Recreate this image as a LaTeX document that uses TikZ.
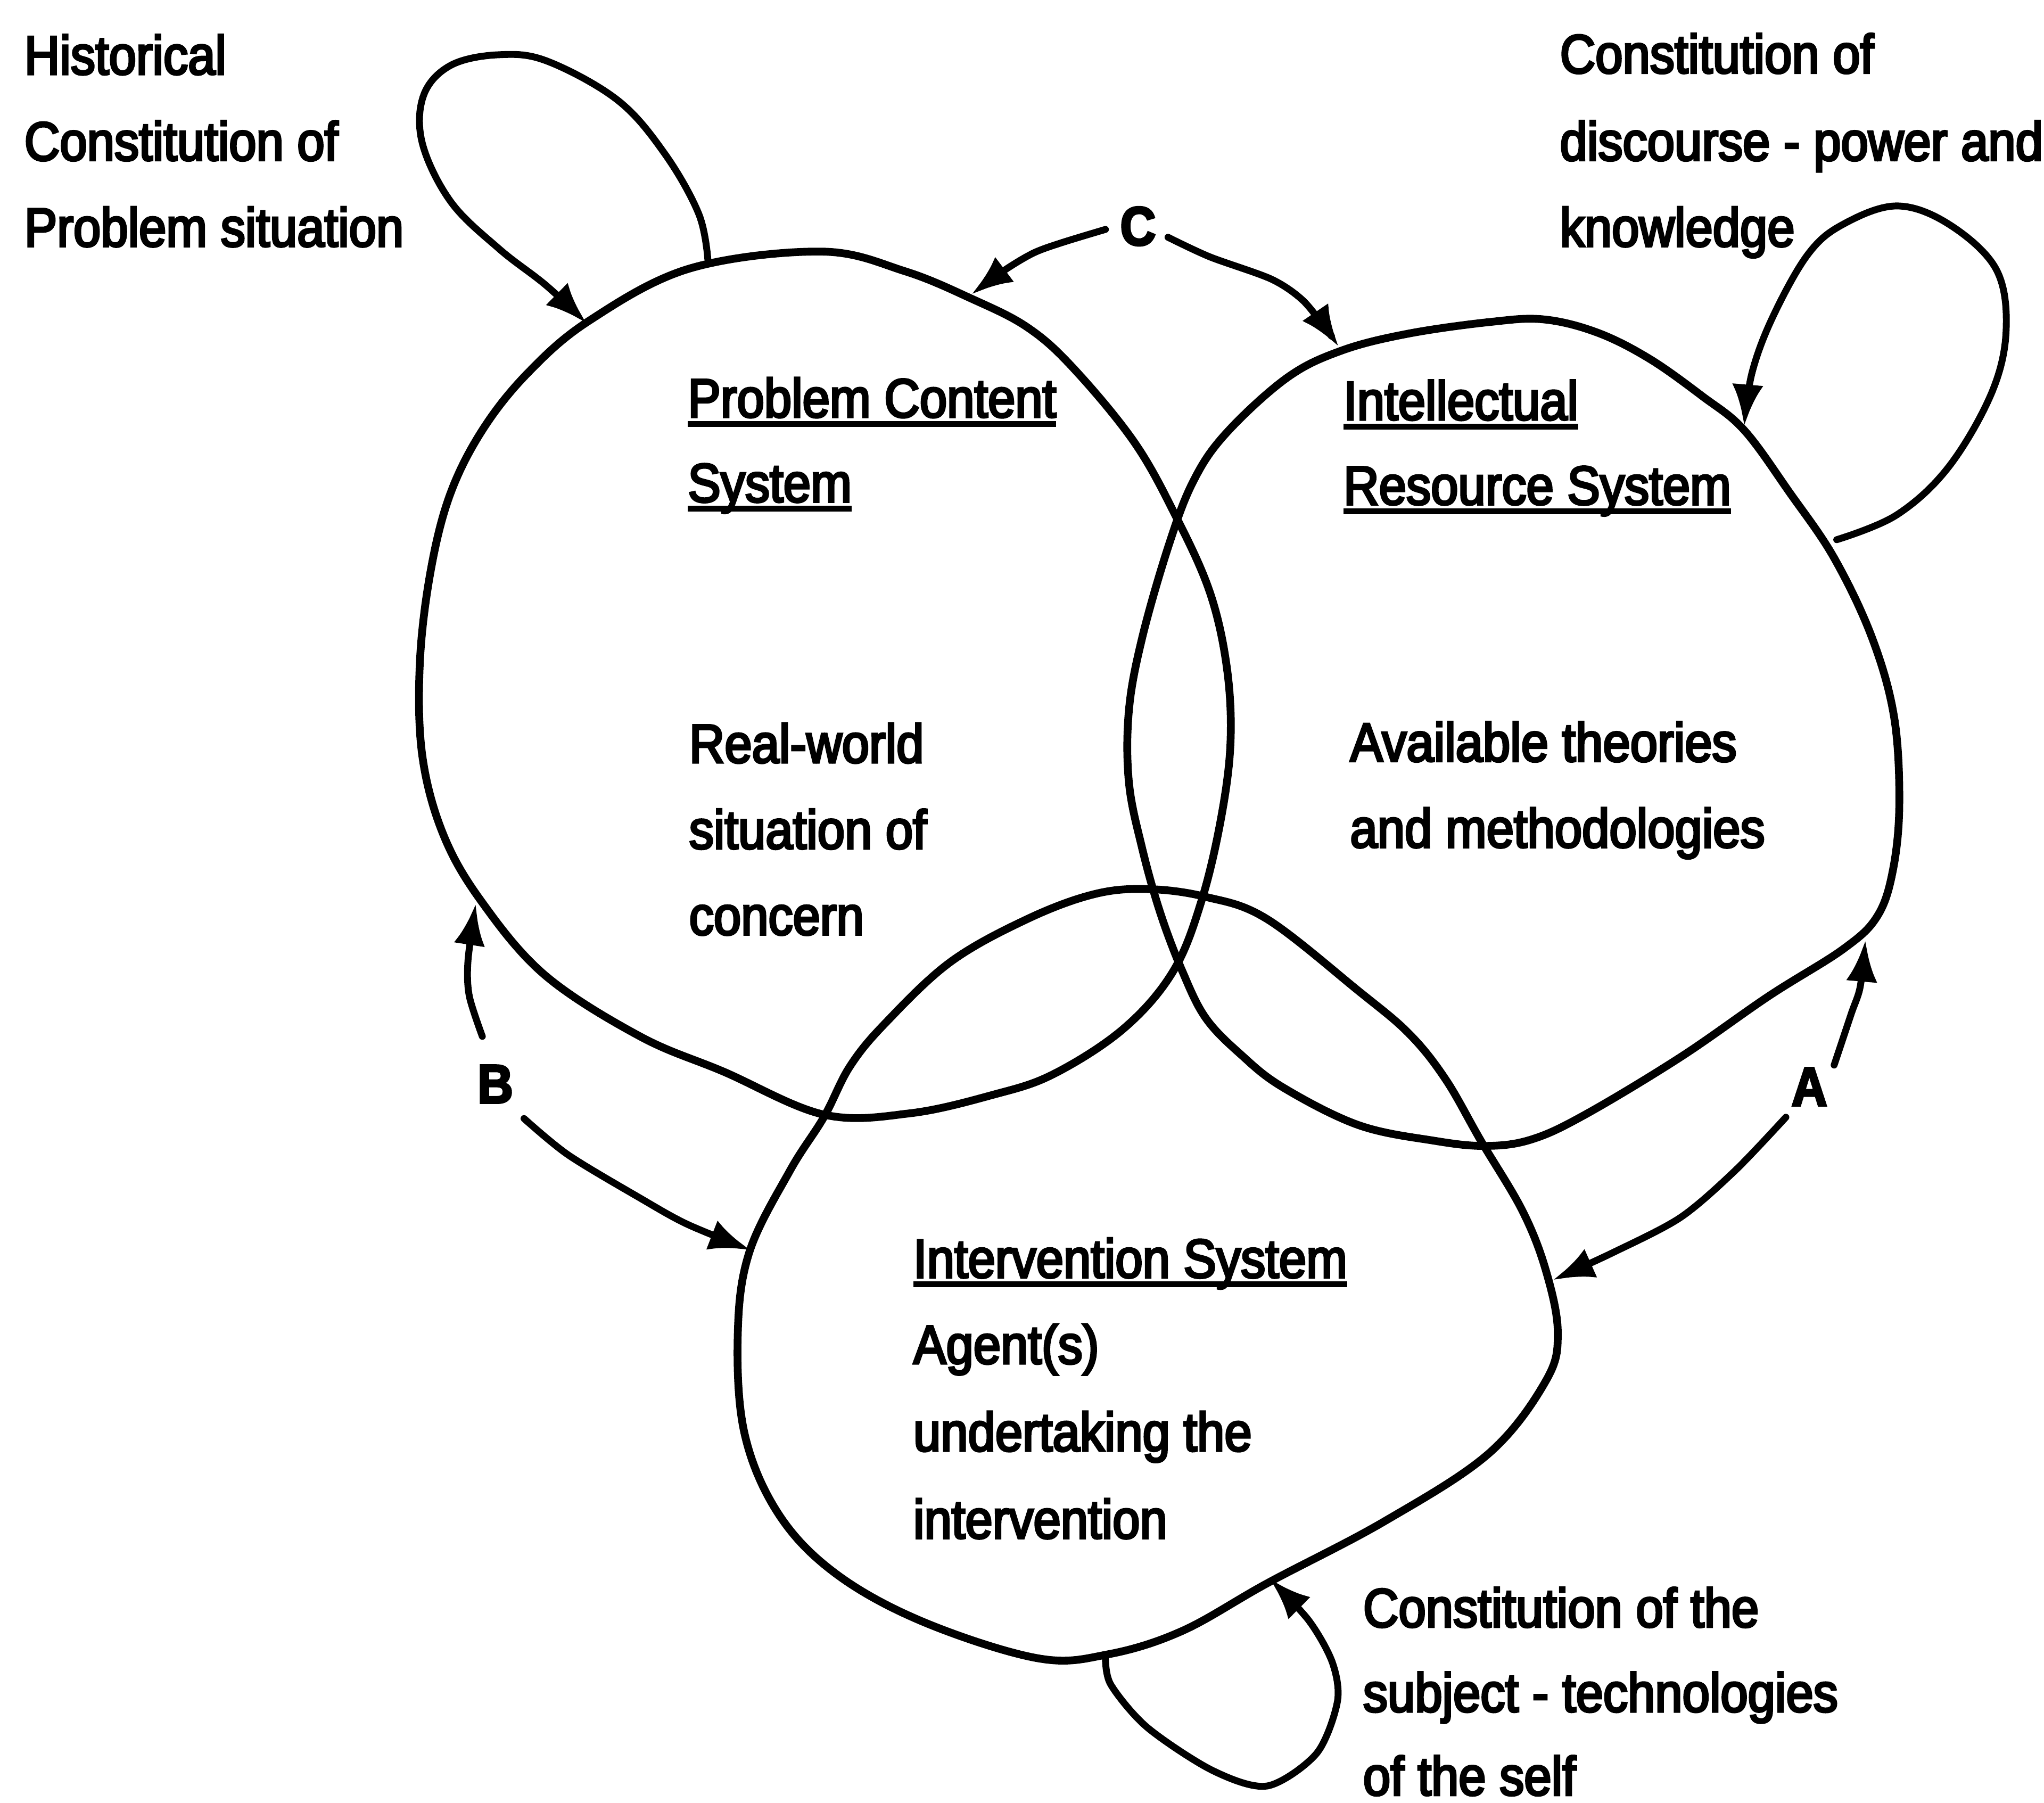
\documentclass[tikz,border=0pt]{standalone}
\usepackage{fontspec}
\setmainfont{Liberation Sans}[FakeStretch=0.9, FakeBold=4]
\usetikzlibrary{arrows.meta}
\newsavebox\ulbox
% underline at a fixed distance below the baseline
\newcommand{\sysul}[1]{\sbox\ulbox{#1}\rlap{\rule[-0.075cm]{\wd\ulbox}{0.045cm}}\usebox\ulbox}
\begin{document}
\begin{tikzpicture}[x=0.01cm,y=-0.01cm,
  txt/.style={anchor=base west, inner sep=0pt, font=\fontsize{11.9}{18.8}\selectfont},
  lbl/.style={anchor=base, inner sep=0pt, font=\fontsize{11.9}{18.8}\selectfont\bfseries},
  sysline/.style={line width=1.7pt, line join=round},
  arr/.style={line width=1.5pt, line cap=round, line join=round, -{Latex[length=3.2mm,width=2.4mm]}}]

\path[use as bounding box] (0,0) rectangle (1568,1383);

% ---- the three systems ----
\draw[sysline] plot[smooth cycle, tension=0.6] coordinates {
  (452,246) (529,206) (630,193) (694,208) (745,229) (788,251) (823,282) (870,339)
  (902,396) (928,454) (941,511) (944,568) (937,626) (922,690) (900,745) (862,789)
  (808,824) (761,840) (698,854) (632,855) (555,822) (491,795) (418,748) (369,691)
  (340,640) (324,580) (322,510) (330,440) (345,380) (370,330) (405,286)};

\draw[sysline] plot[smooth cycle, tension=0.6] coordinates {
  (915,370) (940,333) (987,290) (1029,269) (1080,256) (1143,247) (1184,245) (1225,255)
  (1265,275) (1306,304) (1338,330) (1373,378) (1407,428) (1436,489) (1453,550) (1457,617)
  (1452,668) (1440,703) (1414,728) (1357,764) (1289,811) (1216,855) (1175,874) (1140,879)
  (1100,875) (1042,863) (984,834) (952,809) (925,781) (907,745) (890,700) (876,650)
  (866,600) (866,545) (876,490) (896,420)};

\draw[sysline] plot[smooth cycle, tension=0.6] coordinates {
  (880,682) (925,688) (972,705) (1042,760) (1081,793) (1109,828) (1136,875) (1168,929)
  (1186,975) (1195,1022) (1186,1059) (1142,1115) (1062,1167) (973,1214) (907,1251)
  (850,1269) (796,1272) (708,1244) (641,1207) (597,1161) (571,1099) (566,1022) (575,960)
  (606,898) (632,857) (652,818) (679,785) (729,738) (788,705) (839,686)};

% ---- texts ----
\node[txt] (hist1) at (18,57)  {Historical};
\node[txt] (hist2) at (18,123) {Constitution of};
\node[txt] (hist3) at (18,189) {Problem situation};

\node[txt] (disc1) at (1196,56)  {Constitution of};
\node[txt] (disc2) at (1196,123) {discourse - power and};
\node[txt] (disc3) at (1196,189) {knowledge};

\node[txt] (pcs1) at (527,320) {\sysul{Problem Content}};
\node[txt] (pcs2) at (527,385) {\sysul{System}};
\node[txt] (pcs3) at (528,585) {Real-world};
\node[txt] (pcs4) at (528,651) {situation of};
\node[txt] (pcs5) at (528,717) {concern};

\node[txt] (irs1) at (1030,322) {\sysul{Intellectual}};
\node[txt] (irs2) at (1030,387) {\sysul{Resource System}};
\node[txt] (irs3) at (1035,584) {Available theories};
\node[txt] (irs4) at (1035,650) {and methodologies};

\node[txt] (is1) at (700,980)  {\sysul{Intervention System}};
\node[txt] (is2) at (700,1046) {Agent(s)};
\node[txt] (is3) at (700,1113) {undertaking the};
\node[txt] (is4) at (700,1180) {intervention};

\node[txt] (self1) at (1045,1248) {Constitution of the};
\node[txt] (self2) at (1045,1313) {subject - technologies};
\node[txt] (self3) at (1045,1377) {of the self};

\node[lbl] (C) at (873,188) {C};
\node[lbl] (B) at (380,846) {B};
\node[lbl] (A) at (1388,848) {A};

% ---- connector ends ----
\coordinate (hist-s) at (543,199);  \coordinate (hist-e) at (450,248);
\coordinate (disc-s) at (1409,414); \coordinate (disc-e) at (1338,327);
\coordinate (self-s) at (848,1270); \coordinate (self-e) at (974,1211);
\coordinate (c-l) at (848,176);  \coordinate (c-lt) at (745,226);
\coordinate (c-r) at (896,182);  \coordinate (c-rt) at (1027,266);
\coordinate (b-u) at (370,795);  \coordinate (b-ut) at (365,693);
\coordinate (b-r) at (402,858);  \coordinate (b-rt) at (576,959);
\coordinate (a-u) at (1407,817); \coordinate (a-ut) at (1431,721);
\coordinate (a-l) at (1370,857); \coordinate (a-lt) at (1191,982);

% ---- self-constituting loops ----
\draw[arr] plot[smooth, tension=0.6] coordinates {(hist-s) (536,164) (510,118) (474,77)
  (420,47) (383,42) (346,50) (325,73) (324,110) (346,155) (383,191) (419,219) (hist-e)};
\draw[arr] plot[smooth, tension=0.6] coordinates {(disc-s) (1455,395) (1495,358) (1528,301)
  (1539,252) (1531,206) (1495,172) (1455,158) (1414,172) (1387,195) (1360,243) (1344,286) (disc-e)};
\draw[arr] plot[smooth, tension=0.5] coordinates {(self-s) (852,1292) (880,1325) (930,1358)
  (972,1370) (1010,1345) (1026,1305) (1022,1275) (1004,1243) (self-e)};

% ---- lettered links ----
\draw[arr] plot[smooth, tension=0.5] coordinates {(c-l) (815,186) (793,194) (771,207) (c-lt)};
\draw[arr] plot[smooth, tension=0.5] coordinates {(c-r) (928,197) (975,214) (999,230) (1017,252) (c-rt)};
\draw[arr] plot[smooth, tension=0.5] coordinates {(b-u) (360,764) (359,737) (b-ut)};
\draw[arr] plot[smooth, tension=0.5] coordinates {(b-r) (436,886) (491,919) (527,939) (b-rt)};
\draw[arr] plot[smooth, tension=0.5] coordinates {(a-u) (1420,778) (1427,757) (a-ut)};
\draw[arr] plot[smooth, tension=0.5] coordinates {(a-l) (1331,898) (1289,934) (1237,961) (a-lt)};

\end{tikzpicture}
\end{document}
